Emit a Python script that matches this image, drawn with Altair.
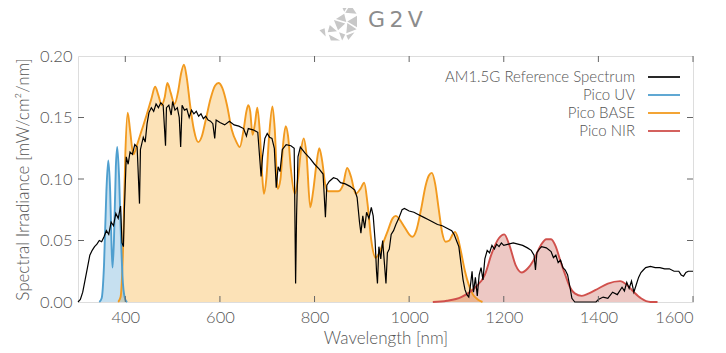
import altair as alt
import pandas as pd

# ---------------- data ----------------
am_nm = [300,305,310,315,320,325,330,335,340,345,350,355,360,365,370,375,380,385,390,393,396,398,
         402,406,410,415,420,425,430,432,438,442,446,450,455,460,465,470,475,480,485,487,492,497,
         500,505,510,514,517,520,525,530,535,540,545,550,555,560,565,570,575,580,585,589,592,600,
         610,620,630,640,650,656,660,670,680,687,690,695,700,705,710,715,719,723,727,732,740,750,
         757,760,762,765,770,780,790,800,810,818,823,826,831,840,848,855,865,875,885,890,895,898,
         902,906,910,915,920,924,928,931,933,936,940,944,948,951,954,958,962,967,972,978,985,990,
         1000,1010,1020,1030,1040,1050,1060,1070,1080,1090,1095,1100,1105,1110,1114,1118,1122,1126,
         1130,1133,1136,1140,1144,1148,1152,1156,1160,1165,1170,1175,1180,1185,1190,1195,1200,1210,
         1220,1230,1240,1250,1258,1264,1267,1270,1275,1280,1290,1300,1305,1310,1315,1320,1325,1330,
         1335,1340,1344,1350,1360,1380,1395,1400,1410,1420,1430,1440,1450,1455,1460,1465,1470,1475,
         1480,1485,1490,1495,1500,1510,1520,1530,1540,1550,1560,1570,1575,1580,1585,1590,1600]
am_val = [0.000,0.002,0.008,0.018,0.028,0.038,0.042,0.045,0.047,0.050,0.049,0.053,0.058,0.055,0.065,
          0.062,0.072,0.068,0.078,0.048,0.045,0.075,0.118,0.112,0.122,0.120,0.128,0.126,0.080,0.124,
          0.134,0.130,0.145,0.154,0.158,0.155,0.161,0.158,0.162,0.160,0.127,0.158,0.160,0.152,0.163,
          0.156,0.158,0.150,0.126,0.160,0.156,0.157,0.150,0.156,0.153,0.155,0.151,0.153,0.149,0.151,
          0.148,0.147,0.145,0.133,0.148,0.146,0.144,0.147,0.144,0.143,0.141,0.135,0.141,0.140,0.138,
          0.102,0.118,0.133,0.137,0.134,0.133,0.125,0.093,0.110,0.106,0.124,0.128,0.127,0.125,0.015,
          0.070,0.118,0.126,0.121,0.117,0.112,0.108,0.104,0.069,0.095,0.098,0.101,0.100,0.097,0.096,
          0.094,0.091,0.085,0.065,0.056,0.070,0.060,0.073,0.068,0.077,0.070,0.050,0.025,0.015,0.045,
          0.035,0.050,0.030,0.015,0.040,0.043,0.055,0.058,0.063,0.068,0.075,0.076,0.074,0.073,0.071,
          0.069,0.067,0.065,0.063,0.062,0.060,0.058,0.055,0.050,0.045,0.030,0.018,0.010,0.006,0.004,
          0.015,0.025,0.008,0.020,0.005,0.022,0.028,0.018,0.035,0.042,0.040,0.046,0.043,0.047,0.045,
          0.048,0.046,0.047,0.048,0.047,0.046,0.044,0.042,0.038,0.026,0.040,0.043,0.045,0.044,0.041,
          0.036,0.038,0.032,0.034,0.028,0.026,0.022,0.012,0.003,0.000,0.000,0.000,0.000,0.002,0.004,
          0.003,0.008,0.006,0.012,0.009,0.016,0.011,0.017,0.008,0.014,0.020,0.024,0.026,0.028,0.029,
          0.028,0.028,0.027,0.027,0.025,0.025,0.022,0.021,0.024,0.025,0.025]

uv_nm = [345,350,355,360,364,368,371,373,376,380,383,387,391,395,400,404]
uv_val = [0.000,0.003,0.030,0.090,0.115,0.090,0.045,0.028,0.050,0.110,0.126,0.100,0.050,0.015,0.002,0.000]

base_nm = [385,390,395,400,405,410,417,425,435,445,455,463,470,477,483,489,496,504,512,518,524,530,
           537,545,554,562,570,580,590,597,605,615,625,635,642,650,656,660,664,669,674,679,684,689,
           693,698,704,711,716,722,728,734,739,744,750,758,765,771,777,783,791,797,804,810,816,823,
           829,840,850,860,869,877,887,897,905,912,920,929,937,945,955,965,972,980,990,1000,1007,
           1015,1025,1035,1042,1048,1055,1062,1070,1077,1085,1092,1097,1103,1110,1118,1126,1135,1145,1155]
base_val = [0.000,0.004,0.040,0.120,0.154,0.140,0.120,0.128,0.140,0.152,0.165,0.175,0.168,0.160,0.166,
            0.178,0.170,0.161,0.172,0.186,0.193,0.182,0.160,0.140,0.130,0.135,0.148,0.165,0.176,0.178,
            0.174,0.160,0.140,0.130,0.126,0.140,0.155,0.160,0.155,0.136,0.145,0.158,0.140,0.105,0.088,
            0.100,0.135,0.159,0.140,0.092,0.100,0.130,0.143,0.135,0.108,0.088,0.100,0.122,0.133,0.120,
            0.077,0.090,0.112,0.125,0.115,0.095,0.090,0.090,0.090,0.095,0.109,0.102,0.088,0.092,0.097,
            0.080,0.050,0.036,0.040,0.048,0.058,0.068,0.070,0.067,0.061,0.055,0.053,0.058,0.075,0.095,
            0.103,0.105,0.096,0.077,0.056,0.049,0.050,0.055,0.057,0.052,0.040,0.025,0.014,0.006,0.002,0.000]

nir_nm = [1050,1080,1110,1140,1160,1175,1190,1201,1212,1225,1238,1250,1263,1278,1290,1300,1310,1320,
          1330,1340,1350,1365,1380,1400,1420,1446,1460,1475,1490,1510,1525]
nir_val = [0.000,0.001,0.004,0.012,0.022,0.040,0.052,0.055,0.046,0.030,0.024,0.027,0.034,0.046,0.051,
           0.051,0.045,0.033,0.022,0.012,0.007,0.005,0.007,0.011,0.015,0.017,0.014,0.008,0.003,0.000,0.000]

x_ticks = [400, 600, 800, 1000, 1200, 1400, 1600]
y_ticks = [0.00, 0.05, 0.10, 0.15, 0.20]
y_inner_ticks = [0.05, 0.10, 0.15]

legend_labels = ["AM1.5G Reference Spectrum", "Pico UV", "Pico BASE", "Pico NIR"]
legend_colors = ["#111111", "#4f9fcf", "#f29a1f", "#d0504c"]

# ---------------- styling ----------------
FONT = "Lato"
TXT = "#555555"
W, H = 615, 246

am = pd.DataFrame({"nm": am_nm, "v": am_val})
uv = pd.DataFrame({"nm": uv_nm, "v": uv_val})
base = pd.DataFrame({"nm": base_nm, "v": base_val})
nir = pd.DataFrame({"nm": nir_nm, "v": nir_val})
xt = pd.DataFrame({"nm": x_ticks})
yt = pd.DataFrame({"v": y_inner_ticks})
leg = pd.DataFrame({"label": legend_labels, "color": legend_colors,
                    "py": [21 + 18 * i for i in range(len(legend_labels))]})

xs = alt.Scale(domain=[300, 1600], nice=False, zero=False)
ys = alt.Scale(domain=[0, 0.2], nice=False)

x_axis = alt.Axis(values=x_ticks, format="d", title="Wavelength [nm]", grid=False, ticks=False,
                  domain=False, labelPadding=7, titlePadding=5, labelFontSize=16.5,
                  titleFontSize=17, labelColor=TXT, titleColor=TXT, labelFont=FONT,
                  titleFont=FONT, titleFontWeight=300, labelFontWeight=300)
y_axis = alt.Axis(values=y_ticks, format=".2f", title="Spectral Irradiance [mW/cm²/nm]",
                  grid=False, ticks=False, domain=False, labelPadding=6, titlePadding=7,
                  labelFontSize=16.5, titleFontSize=17, labelColor=TXT, titleColor=TXT,
                  labelFont=FONT, titleFont=FONT, titleFontWeight=300, labelFontWeight=300)
X = alt.X("nm:Q", scale=xs, axis=x_axis)
Y = alt.Y("v:Q", scale=ys, axis=y_axis)


def area(df, fill, op):
    return alt.Chart(df).mark_area(color=fill, opacity=op, interpolate="monotone").encode(x=X, y=Y)


def curve(df, color, w=1.9, interp="monotone"):
    return alt.Chart(df).mark_line(color=color, strokeWidth=w, interpolate=interp).encode(x=X, y=Y)


a_base = area(base, "#f5a623", 0.33)
a_uv = area(uv, "#4f9fcf", 0.32)
a_nir = area(nir, "#c0392b", 0.28)
l_base = curve(base, "#f29a1f")
l_uv = curve(uv, "#4f9fcf")
l_nir = curve(nir, "#d0504c")
l_am = curve(am, "#000000", w=1.2, interp="linear")

tick_col = "#666666"
tb = alt.Chart(xt).mark_rule(color=tick_col, strokeWidth=1).encode(
    x=X, y=alt.value(H), y2=alt.value(H - 6))
tt = alt.Chart(xt).mark_rule(color=tick_col, strokeWidth=1).encode(
    x=X, y=alt.value(0), y2=alt.value(6))
tl = alt.Chart(yt).mark_rule(color=tick_col, strokeWidth=1).encode(
    y=Y, x=alt.value(0), x2=alt.value(6))
tr = alt.Chart(yt).mark_rule(color=tick_col, strokeWidth=1).encode(
    y=Y, x=alt.value(W), x2=alt.value(W - 6))

leg_text = alt.Chart(leg).mark_text(align="right", baseline="middle", font=FONT, fontSize=15,
                                    fontWeight=300, color=TXT).encode(
    x=alt.value(557), y=alt.Y("py:Q", scale=None, axis=None), text="label:N")
leg_line = alt.Chart(leg).mark_rule(strokeWidth=1.8).encode(
    x=alt.value(570), x2=alt.value(602), y=alt.Y("py:Q", scale=None, axis=None),
    color=alt.Color("color:N", scale=None))

logo_df = pd.DataFrame({"name": ["G\u20092\u2009V"]})
logo_text = alt.Chart(logo_df).mark_text(align="left", baseline="middle", font="DejaVu Sans",
                                         fontSize=22, color="#8c8c8c").encode(
    x=alt.value(290), y=alt.value(-36), text="name:N")
icon_path = ("M0.1,-1 L0.6,-0.85 L0.35,-0.45 Z M0.65,-0.8 L0.95,-0.35 L0.4,-0.4 Z "
             "M0.97,-0.25 L0.97,0.3 L0.5,0.02 Z M0.35,-0.35 L0.45,0.05 L-0.05,-0.1 Z "
             "M-0.15,-0.05 L0.4,0.12 L0.05,0.45 Z M0.5,0.1 L0.95,0.4 L0.45,0.6 Z "
             "M0.1,0.55 L0.4,0.65 L0.25,0.95 Z M0.45,0.7 L0.85,0.55 L0.55,0.92 Z "
             "M-0.35,0.2 L0.0,0.5 L-0.45,0.55 Z M-0.4,0.65 L0.15,0.95 L-0.3,0.95 Z "
             "M-0.6,0.35 L-0.55,0.75 L-0.85,0.45 Z")
logo_icon = alt.Chart(logo_df).mark_point(shape=icon_path, filled=True, color="#c8c8c8",
                                          size=1700, opacity=1).encode(
    x=alt.value(259), y=alt.value(-35))

chart = alt.layer(
    a_base, a_uv, a_nir, l_base, l_uv, l_nir, l_am,
    tb, tt, tl, tr, leg_line, leg_text, logo_icon, logo_text
).properties(
    width=W, height=H,
    autosize=alt.AutoSizeParams(type="none"),
    padding={"left": 70, "top": 48, "right": 25, "bottom": 45},
).configure_view(stroke="#666666", strokeWidth=1.3).configure(background="white")

chart.save("out.html", embed_options={"renderer": "svg", "actions": False})
